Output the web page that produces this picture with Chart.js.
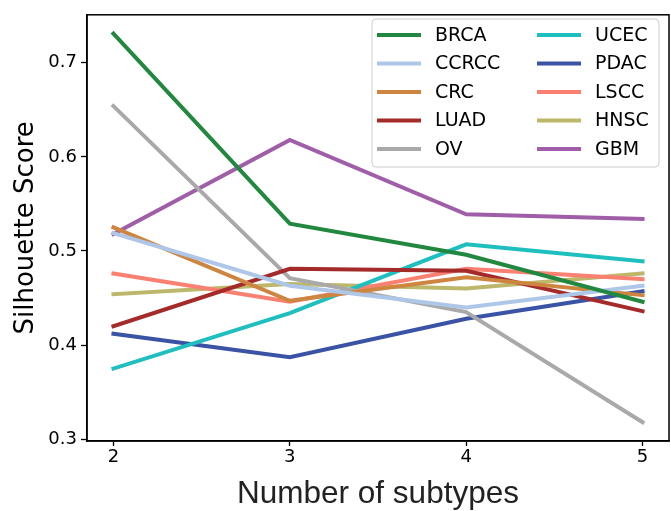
<!DOCTYPE html>
<html>
<head>
<meta charset="utf-8">
<script src="https://cdn.jsdelivr.net/npm/chart.js@4/dist/chart.umd.min.js"></script>
<style>
  html, body { margin: 0; padding: 0; background: #fff; }
</style>
</head>
<body>
<canvas id="chart" width="671" height="511"></canvas>
<script>
// number of subtypes on the x axis
const subtypes = [2, 3, 4, 5];
const xTicks = [2, 3, 4, 5];
const yTicks = [0.3, 0.4, 0.5, 0.6, 0.7];

// silhouette scores per cohort
const brca  = [0.731, 0.529, 0.496, 0.446];
const ccrcc = [0.519, 0.463, 0.440, 0.463];
const crc   = [0.525, 0.447, 0.472, 0.453];
const luad  = [0.420, 0.481, 0.479, 0.436];
const ov    = [0.654, 0.471, 0.435, 0.318];
const ucec  = [0.375, 0.434, 0.507, 0.489];
const pdac  = [0.412, 0.387, 0.428, 0.457];
const lscc  = [0.476, 0.446, 0.481, 0.470];
const hnsc  = [0.454, 0.465, 0.460, 0.476];
const gbm   = [0.518, 0.618, 0.539, 0.534];

const seriesNames  = ['BRCA', 'CCRCC', 'CRC', 'LUAD', 'OV', 'UCEC', 'PDAC', 'LSCC', 'HNSC', 'GBM'];
const seriesValues = [brca, ccrcc, crc, luad, ov, ucec, pdac, lscc, hnsc, gbm];
const seriesColors = ['#23883f', '#aec7e8', '#cd853f', '#a52a2a', '#a9a9a9',
                      '#1fbfbf', '#3a53a4', '#fa8072', '#bdb76b', '#a05ea8'];

const FONT = "'DejaVu Sans', sans-serif";

// black frame round the plot area
const frame = {
    id: 'frame',
    afterDatasetsDraw(chart) {
        const { ctx, chartArea: a } = chart;
        ctx.save();
        ctx.strokeStyle = '#000';
        ctx.lineWidth = 1.5;
        ctx.strokeRect(a.left, a.top, a.right - a.left, a.bottom - a.top);
        ctx.restore();
    }
};

// two column legend box in the upper right corner
const boxLegend = {
    id: 'boxLegend',
    afterDraw(chart) {
        const ctx = chart.ctx;
        const x0 = 372, y0 = 19, w = 287, h = 148;
        ctx.save();
        ctx.beginPath();
        ctx.roundRect(x0, y0, w, h, 4);
        ctx.fillStyle = 'rgba(255,255,255,0.8)';
        ctx.fill();
        ctx.strokeStyle = '#cccccc';
        ctx.lineWidth = 1;
        ctx.stroke();
        ctx.font = '19px ' + FONT;
        ctx.textBaseline = 'middle';
        ctx.textAlign = 'left';
        chart.data.datasets.forEach((ds, i) => {
            const col = i < 5 ? 0 : 1;
            const row = i % 5;
            const lx = [377, 537][col];
            const y = 35 + row * 28.5;
            ctx.strokeStyle = ds.borderColor;
            ctx.lineWidth = 4;
            ctx.beginPath();
            ctx.moveTo(lx, y);
            ctx.lineTo(lx + 44, y);
            ctx.stroke();
            ctx.fillStyle = '#000';
            ctx.fillText(ds.label, lx + 58, y + 1);
        });
        ctx.restore();
    }
};

const datasets = seriesNames.map((name, i) => ({
    label: name,
    data: subtypes.map((x, j) => ({ x: x, y: seriesValues[i][j] })),
    borderColor: seriesColors[i],
    backgroundColor: seriesColors[i],
    borderWidth: 4,
    pointRadius: 0,
    tension: 0,
    borderCapStyle: 'square',
    fill: false
}));

new Chart(document.getElementById('chart'), {
    type: 'line',
    data: { datasets: datasets },
    plugins: [frame, boxLegend],
    options: {
        responsive: false,
        animation: false,
        layout: { padding: { top: 10, right: 2, left: 0, bottom: 0 } },
        plugins: {
            legend: { display: false },
            tooltip: { enabled: false }
        },
        scales: {
            x: {
                type: 'linear',
                min: 1.85,
                max: 5.15,
                afterBuildTicks: s => { s.ticks = xTicks.map(v => ({ value: v })); },
                afterFit: s => { s.height = 70; },
                ticks: {
                    color: '#000',
                    font: { family: FONT, size: 18 },
                    padding: 1,
                    callback: v => String(v)
                },
                grid: { display: true, drawOnChartArea: false, drawTicks: true, tickLength: 5, tickColor: '#000', tickWidth: 1.3 },
                border: { display: true, color: '#000', width: 1.5 },
                title: {
                    display: true,
                    text: 'Number of subtypes',
                    color: '#222',
                    font: { family: "'Liberation Sans', Arial, sans-serif", size: 31.5, lineHeight: 1 },
                    padding: { top: 0, bottom: 1 }
                }
            },
            y: {
                min: 0.298,
                max: 0.751,
                afterBuildTicks: s => { s.ticks = yTicks.map(v => ({ value: v })); },
                afterFit: s => { s.width = 87; },
                ticks: {
                    color: '#000',
                    font: { family: FONT, size: 18 },
                    padding: 4,
                    callback: v => v.toFixed(1)
                },
                grid: { display: true, drawOnChartArea: false, drawTicks: true, tickLength: 6, tickColor: '#000', tickWidth: 1.3 },
                border: { display: true, color: '#000', width: 1.5 },
                title: {
                    display: true,
                    text: 'Silhouette Score',
                    color: '#000',
                    font: { family: FONT, size: 26 },
                    padding: { top: 11, bottom: 0 }
                }
            }
        }
    }
});
</script>
</body>
</html>
